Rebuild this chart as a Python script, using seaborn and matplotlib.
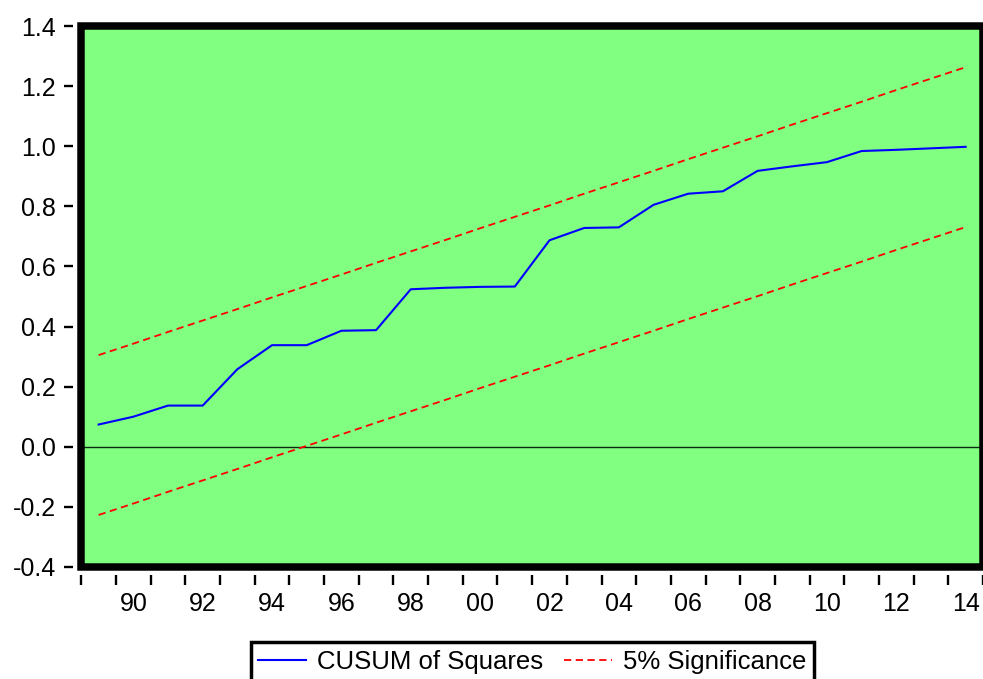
import numpy as np
import pandas as pd
import matplotlib
matplotlib.use('Agg')
import matplotlib.pyplot as plt
from matplotlib.patches import Rectangle
import seaborn as sns

# values
years = [1989, 1990, 1991, 1992, 1993, 1994, 1995, 1996, 1997, 1998, 1999, 2000, 2001,
         2002, 2003, 2004, 2005, 2006, 2007, 2008, 2009, 2010, 2011, 2012, 2013, 2014]
cusum_sq = [0.074, 0.100, 0.137, 0.137, 0.258, 0.338, 0.338, 0.386, 0.388, 0.524, 0.529, 0.532, 0.533,
            0.687, 0.728, 0.730, 0.805, 0.842, 0.850, 0.918, 0.933, 0.947, 0.984, 0.988, 0.993, 0.998]
upper_5 = [0.305, 0.343, 0.382, 0.420, 0.458, 0.497, 0.535, 0.573, 0.612, 0.650, 0.688, 0.727, 0.765,
           0.803, 0.842, 0.880, 0.918, 0.957, 0.995, 1.033, 1.072, 1.110, 1.148, 1.187, 1.225, 1.263]
lower_5 = [-0.227, -0.189, -0.150, -0.112, -0.074, -0.035, 0.003, 0.041, 0.080, 0.118, 0.156, 0.195, 0.233,
           0.271, 0.310, 0.348, 0.386, 0.425, 0.463, 0.501, 0.540, 0.578, 0.616, 0.655, 0.693, 0.731]

ytick_vals = [-0.4, -0.2, 0.0, 0.2, 0.4, 0.6, 0.8, 1.0, 1.2, 1.4]
ytick_labels = ['-0.4', '-0.2', '0.0', '0.2', '0.4', '0.6', '0.8', '1.0', '1.2', '1.4']
xlabel_years = [1990, 1992, 1994, 1996, 1998, 2000, 2002, 2004, 2006, 2008, 2010, 2012, 2014]
xlabel_text = ['90', '92', '94', '96', '98', '00', '02', '04', '06', '08', '10', '12', '14']

df = pd.DataFrame({'year': years, 'cusum': cusum_sq, 'upper': upper_5, 'lower': lower_5})

plt.rcParams['font.family'] = ['Liberation Sans', 'DejaVu Sans']

fig = plt.figure(figsize=(9.83, 6.79), dpi=100)
ax = fig.add_axes([0.0827, 0.165, 0.9173, 0.7967])
ax.set_facecolor('#80ff80')

ax.axhline(0, color='#102a10', lw=1.0, zorder=1)
dash = (0, (4, 2.5))
sns.lineplot(data=df, x='year', y='cusum', color='#0000ff', lw=1.5, label='CUSUM of Squares', ax=ax, zorder=3)
sns.lineplot(data=df, x='year', y='upper', color='#ff0000', lw=1.3, linestyle=dash, label='5% Significance', ax=ax, zorder=2)
sns.lineplot(data=df, x='year', y='lower', color='#ff0000', lw=1.3, linestyle=dash, label='_nolegend_', ax=ax, zorder=2)

ax.set_xlim(1988.5, 2014.5)
ax.set_ylim(-0.4, 1.4)
ax.set_xlabel('')
ax.set_ylabel('')

# year boundaries get the tick marks, the labels sit in the middle of the years
ax.set_xticks(np.arange(1988.5, 2015, 1.0))
ax.set_xticklabels([])
ax.set_xticks(xlabel_years, labels=xlabel_text, minor=True)
ax.tick_params(axis='x', which='major', length=7.5, width=1.7, direction='out')
ax.tick_params(axis='x', which='minor', length=0, pad=12.5, labelsize=18)
ax.set_yticks(ytick_vals, labels=ytick_labels)
ax.tick_params(axis='y', length=6.8, width=1.7, direction='out', pad=5.5, labelsize=18)

for s in ax.spines.values():
    s.set_visible(False)
ax.spines['left'].set_position(('outward', 5.8))
ax.spines['bottom'].set_position(('outward', 5.8))

ax.add_patch(Rectangle((0, 0), 1, 1, transform=ax.transAxes, fill=False,
                       edgecolor='black', lw=5.4, clip_on=False, zorder=10))

ax.get_legend().remove()
handles, labels = ax.get_legend_handles_labels()
leg = fig.legend(handles, labels, loc='upper center', bbox_to_anchor=(0.5417, 0.0545), ncol=2,
                 fontsize=18.5, frameon=True, fancybox=False, framealpha=1, edgecolor='black',
                 handlelength=1.85, handletextpad=0.45, columnspacing=0.8, borderpad=0.3,
                 borderaxespad=0)
leg.get_frame().set_linewidth(2.5)

plt.savefig('out.png', dpi=100)
